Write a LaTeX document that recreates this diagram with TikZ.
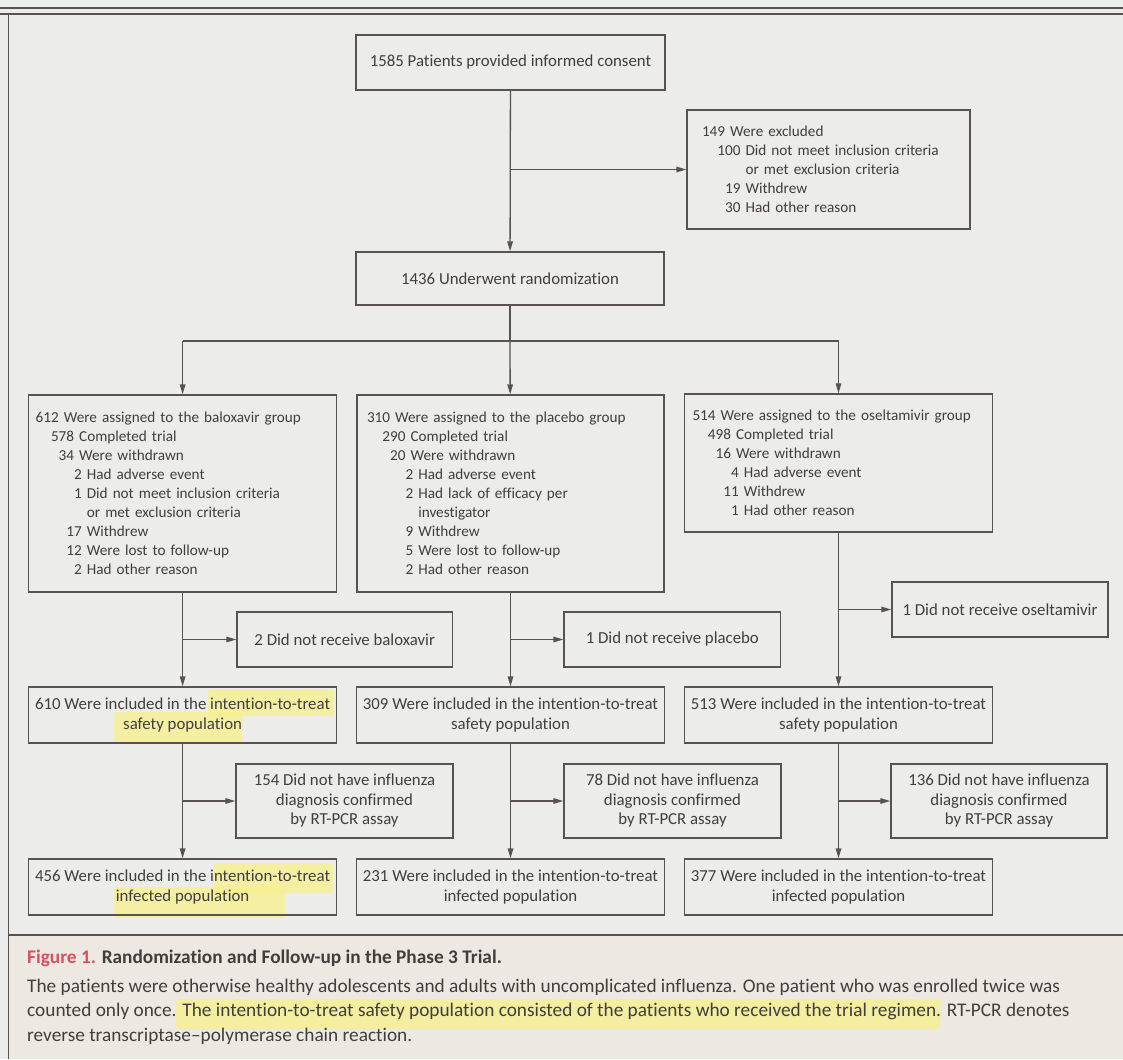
\documentclass[tikz,border=0pt]{standalone}
\usepackage{fontspec}
\setmainfont{Carlito}[Numbers={Lining,Monospaced},Ligatures=NoCommon]
\usetikzlibrary{arrows.meta}
\definecolor{scanbg}{RGB}{236,236,234}
\definecolor{capbg}{RGB}{238,232,226}
\definecolor{boxline}{RGB}{88,82,82}
\definecolor{ink}{RGB}{66,62,62}
\definecolor{figred}{RGB}{214,82,96}
\definecolor{marker}{RGB}{247,241,140}
\tikzset{
  box/.style={draw=boxline, line width=1.3pt, inner sep=0pt, text=ink,
    font=\fontsize{15.2}{19}\selectfont},
  listbox/.style={box, align=left},
  cbox/.style={box, align=center, font=\fontsize{16.8}{19.5}\selectfont},
  arr/.style={draw=boxline, line width=1.3pt, -{Triangle[length=10pt,width=5.5pt]}},
  hl/.style={fill=marker, fill opacity=0.75, rounded corners=3pt},
  captext/.style={anchor=base west, inner sep=0pt, text=ink, align=left,
    font=\fontsize{19.3}{24.5}\selectfont}
}
\begin{document}
\begin{tikzpicture}[x=1pt,y=-1pt]
\useasboundingbox (0,0) rectangle (1123,1059);
%background of the scan
\fill[scanbg] (0,0) rectangle (1123,1059);
\fill[capbg] (8.5,935) rectangle (1123,1059);
\draw[boxline,line width=1.2pt] (0,8) -- (1123,8);
\draw[boxline,line width=1.2pt] (0,14) -- (1123,14);
\draw[boxline,line width=1.2pt] (8.5,14) -- (8.5,1059);
\draw[boxline,line width=1.2pt] (8.5,935) -- (1123,935);
%yellow marker
\fill[hl] (208,689) rectangle (334,716);
\fill[hl] (114,712) rectangle (242,744);
\fill[hl] (213,863) rectangle (333,893);
\fill[hl] (114,887) rectangle (285,918);
\fill[hl] (176,999) rectangle (940,1029);

%top part
\node[cbox, minimum width=309pt, minimum height=55pt] (consent) at (510.5,62.5)
  {1585 Patients provided informed consent};
\node[listbox, minimum height=119pt, inner xsep=15pt, text width=253pt] (excl) at (828.5,169.5)
  {149 Were excluded\\
   \hphantom{00}100 Did not meet inclusion criteria\\
   \hphantom{00100 }or met exclusion criteria\\
   \hphantom{000}19 Withdrew\\
   \hphantom{000}30 Had other reason};
\node[cbox, minimum width=308pt, minimum height=53pt] (random) at (510,278.5)
  {1436 Underwent randomization};
\coordinate (split) at (510,341);

%assigned groups
\node[listbox, minimum height=197pt, inner xsep=7pt, text width=294pt] (balox) at (182.6,493.5)
  {612 Were assigned to the baloxavir group\\
   \hphantom{00}578 Completed trial\\
   \hphantom{000}34 Were withdrawn\\
   \hphantom{00000}2 Had adverse event\\
   \hphantom{00000}1 Did not meet inclusion criteria\\
   \hphantom{000000 }or met exclusion criteria\\
   \hphantom{0000}17 Withdrew\\
   \hphantom{0000}12 Were lost to follow-up\\
   \hphantom{00000}2 Had other reason};
\node[listbox, minimum height=197pt, inner xsep=10pt, text width=287pt] (plac) at (510.5,493.5)
  {310 Were assigned to the placebo group\\
   \hphantom{00}290 Completed trial\\
   \hphantom{000}20 Were withdrawn\\
   \hphantom{00000}2 Had adverse event\\
   \hphantom{00000}2 Had lack of efficacy per\\
   \hphantom{000000 }investigator\\
   \hphantom{00000}9 Withdrew\\
   \hphantom{00000}5 Were lost to follow-up\\
   \hphantom{00000}2 Had other reason};
\node[listbox, minimum height=138pt, inner xsep=8pt, text width=292pt] (oselt) at (838.5,463)
  {514 Were assigned to the oseltamivir group\\
   \hphantom{00}498 Completed trial\\
   \hphantom{000}16 Were withdrawn\\
   \hphantom{00000}4 Had adverse event\\
   \hphantom{0000}11 Withdrew\\
   \hphantom{00000}1 Had other reason};

%not treated
\node[cbox, minimum width=215.5pt, minimum height=55pt] (baloxnot) at (344.7,639.5)
  {2 Did not receive baloxavir};
\node[cbox, minimum width=216.6pt, minimum height=55pt] (placnot) at (672.3,639.5)
  {1 Did not receive placebo};
\node[cbox, minimum width=216pt, minimum height=55pt] (oseltnot) at (1000,609.5)
  {1 Did not receive oseltamivir};

%safety population
\node[cbox, minimum width=308pt, minimum height=56pt] (baloxsafe) at (182.6,715)
  {610 Were included in the intention-to-treat\\safety population};
\node[cbox, minimum width=308pt, minimum height=56pt] (placsafe) at (510.5,715)
  {309 Were included in the intention-to-treat\\safety population};
\node[cbox, minimum width=308pt, minimum height=56pt] (oseltsafe) at (838.5,715)
  {513 Were included in the intention-to-treat\\safety population};

%no influenza
\node[cbox, minimum width=217pt, minimum height=74pt] (baloxneg) at (344.5,801)
  {154 Did not have influenza\\diagnosis confirmed\\by RT-PCR assay};
\node[cbox, minimum width=217pt, minimum height=74pt] (placneg) at (672.5,801)
  {78 Did not have influenza\\diagnosis confirmed\\by RT-PCR assay};
\node[cbox, minimum width=216pt, minimum height=74pt] (oseltneg) at (999,801)
  {136 Did not have influenza\\diagnosis confirmed\\by RT-PCR assay};

%infected population
\node[cbox, minimum width=308pt, minimum height=56pt] (baloxinf) at (182.6,887)
  {456 Were included in the intention-to-treat\\infected population};
\node[cbox, minimum width=308pt, minimum height=56pt] (placinf) at (510.5,887)
  {231 Were included in the intention-to-treat\\infected population};
\node[cbox, minimum width=308pt, minimum height=56pt] (oseltinf) at (838.5,887)
  {377 Were included in the intention-to-treat\\infected population};

%connectors
\draw[arr] (consent) -- (random);
\draw[arr] (consent.south |- excl.west) -- (excl.west);
\draw[boxline,line width=1.3pt] (random) -- (split);
\draw[boxline,line width=1.3pt] (split -| balox) -- (split -| oselt);
\draw[arr] (split -| balox) -- (balox);
\draw[arr] (split) -- (plac);
\draw[arr] (split -| oselt) -- (oselt);
\draw[arr] (balox) -- (baloxsafe);
\draw[arr] (plac) -- (placsafe);
\draw[arr] (oselt) -- (oseltsafe);
\draw[arr] (balox.south |- baloxnot.west) -- (baloxnot.west);
\draw[arr] (plac.south |- placnot.west) -- (placnot.west);
\draw[arr] (oselt.south |- oseltnot.west) -- (oseltnot.west);
\draw[arr] (baloxsafe) -- (baloxinf);
\draw[arr] (placsafe) -- (placinf);
\draw[arr] (oseltsafe) -- (oseltinf);
\draw[arr] (baloxsafe.south |- baloxneg.west) -- (baloxneg.west);
\draw[arr] (placsafe.south |- placneg.west) -- (placneg.west);
\draw[arr] (oseltsafe.south |- oseltneg.west) -- (oseltneg.west);

%caption
\node[captext] (captitle) at (27,963)
  {\textbf{\textcolor{figred}{Figure 1.} Randomization and Follow-up in the Phase 3 Trial.}};
\node[captext] (capbody) at (27,1041)
  {The patients were otherwise healthy adolescents and adults with uncomplicated influenza. One patient who was enrolled twice was\\
   counted only once. The intention-to-treat safety population consisted of the patients who received the trial regimen. RT-PCR denotes\\
   reverse transcriptase--polymerase chain reaction.};
\end{tikzpicture}
\end{document}
